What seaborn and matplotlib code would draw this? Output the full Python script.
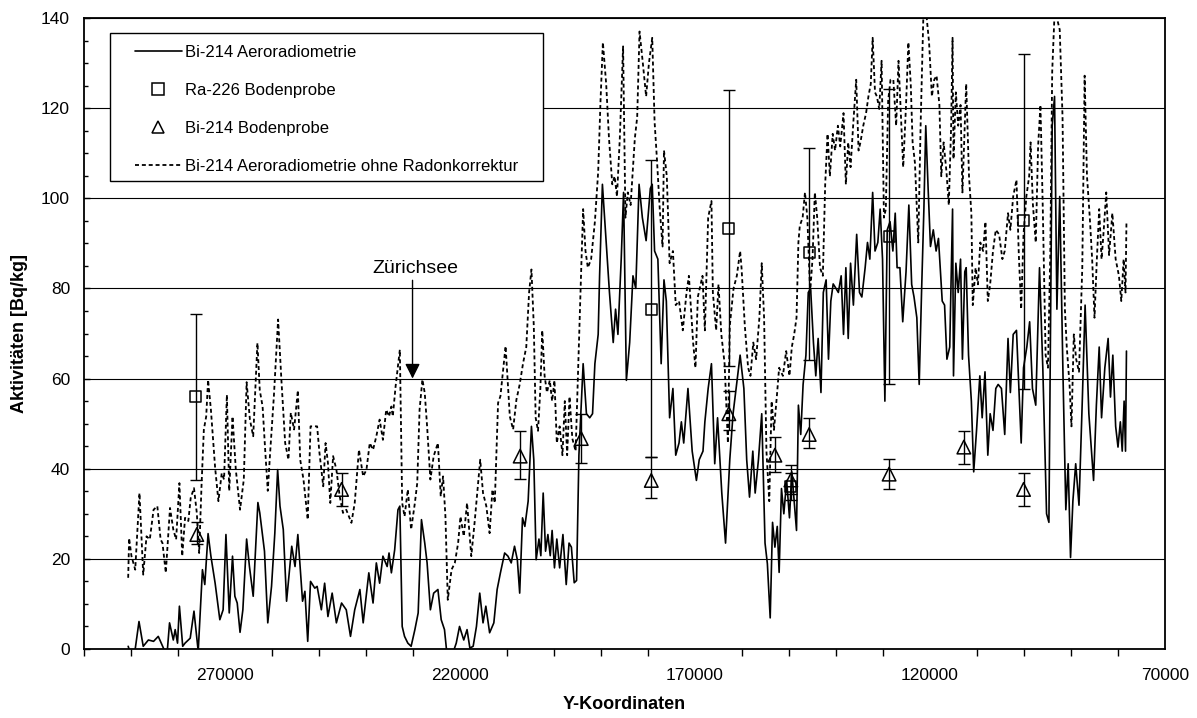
import numpy as np
import pandas as pd
import matplotlib
matplotlib.use("Agg")
import matplotlib.pyplot as plt
import seaborn as sns
from matplotlib.lines import Line2D
from matplotlib.patches import Rectangle
from matplotlib.ticker import MultipleLocator, FixedLocator

# ---------------- data (Y-coordinate in thousands, activity in Bq/kg) -------------
solid_km = [290.6, 289.5, 288.3, 287.4, 286.3, 285.2, 284.2, 283.1, 282.4, 281.8, 281.0, 280.6, 280.1,
            279.7, 279.0, 278.5, 277.4, 276.6, 275.7, 274.8, 274.3, 273.6, 273.0, 272.1, 271.1, 270.4,
            269.8, 269.1, 268.4, 267.9, 267.4, 266.8, 266.2, 265.4, 264.8, 264.0, 263.0, 262.6, 261.6,
            260.9, 260.1, 259.4, 258.8, 258.3, 257.6, 256.9, 255.8, 255.1, 254.5, 253.5, 253.0, 252.4,
            251.8, 250.9,
            250.4, 249.5, 248.8, 248.1, 247.2, 246.3, 245.2, 244.2, 243.3, 242.4, 241.3, 240.6, 239.4,
            238.5, 237.8, 237.1, 236.4, 235.5, 235.1, 234.6, 233.9, 233.2, 232.8, 232.3, 231.8, 231.1,
            230.4, 229.6, 228.9, 228.2, 227.5, 227.0, 226.3, 225.6, 224.7, 224.0, 223.3, 222.8, 222.2,
            220.8, 220.1, 219.2, 218.5, 217.9, 217.2, 216.5, 215.8, 215.1, 214.5, 213.7, 212.8, 212.1,
            211.4, 210.5, 209.8, 209.1, 208.4, 207.8,
            207.3, 206.7, 206.2, 205.5, 204.8, 204.3, 203.8, 203.2, 202.8, 202.3, 201.8, 201.3, 200.8,
            200.4, 199.9, 199.4, 198.8, 198.1, 197.4, 196.8, 196.3, 195.7, 195.2, 194.7, 193.8, 193.1,
            192.4, 191.8, 191.3, 190.6, 190.3, 189.7, 189.0, 188.2, 187.4, 186.9, 186.4, 185.7, 185.2,
            184.6, 183.9, 183.2, 182.6, 181.9, 181.2, 180.4, 179.5, 179.1, 178.6, 177.9, 177.2, 176.6,
            176.1, 175.4, 174.7, 174.1, 173.4, 172.9, 172.4, 171.5, 170.6, 169.7, 169.1, 168.3, 167.9,
            167.2, 166.5, 165.8, 165.2, 164.8, 164.3, 163.5, 162.6, 161.9,
            160.4, 159.6, 159.0, 158.4, 157.7, 157.2, 156.5, 155.8, 155.1, 154.6, 154.0, 153.5, 153.0,
            152.5, 152.1, 151.6, 151.1, 150.5, 149.9, 149.4, 148.9, 148.4, 148.0, 147.5, 147.0, 146.4,
            145.9, 145.4, 144.8, 144.3, 143.8, 143.2, 142.7, 142.1, 141.6, 141.1, 140.6, 140.0, 139.5,
            138.9, 138.4, 137.9, 137.4, 136.9, 136.3, 135.6, 135.0, 134.5, 133.8, 133.3, 132.8, 132.2,
            131.7, 131.1, 130.6, 130.1, 129.6, 129.1, 128.5, 127.9, 127.4, 127.0, 126.4, 125.8, 125.1,
            124.5, 123.9, 123.4, 122.8, 122.3, 121.8, 121.3, 120.9, 120.4, 119.9, 119.3, 118.7, 118.2,
            117.4, 116.9, 116.4, 115.8, 115.2, 115.0, 114.5, 114.0, 113.5, 113.1, 112.6, 112.3, 111.8,
            111.2, 110.7, 110.1, 109.4, 108.9, 108.3, 107.7, 107.2, 106.6, 106.0, 105.5, 104.8, 104.1,
            103.4, 102.9, 102.3, 101.6, 100.9, 100.6, 100.1, 99.4, 98.8, 98.2, 97.5, 96.7, 96.0, 95.2,
            94.7, 94.0, 93.5, 93.0, 92.4, 91.7, 91.1, 90.6, 90.1, 89.6, 89.0, 88.3, 87.6, 87.0, 86.2,
            85.2, 84.6, 84.0, 83.5, 82.8, 82.1, 81.6, 81.1, 80.5, 80.0, 79.5, 79.1, 78.7, 78.4, 78.2]
solid_val = [0.6, -3, 6.1, 0.6, 2.0, 1.7, 2.8, 0.2, -2, 5.8, 2.0, 4.3, 1.3,
             9.5, 0.6, 1.3, 2.4, 8.4, -0.5, 17.6, 14.3, 25.6, 20.6, 14.6, 6.5, 8.7,
             25.4, 8.0, 20.6, 11.7, 10.2, 3.7, 8.7, 24.4, 18.3, 11.7, 32.5, 30.2, 21.7,
             5.8, 13.9, 25.7, 39.8, 31.7, 26.5, 10.6, 22.8, 18.3, 25.4, 10.6, 12.8, 1.7,
             15.0, 13.5,
             13.9, 8.7, 14.6, 7.2, 12.4, 5.8, 10.2, 8.7, 2.8, 8.7, 13.2, 5.8, 16.9,
             10.2, 19.1, 14.6, 20.6, 18.3, 21.3, 16.9, 22.0, 30.9, 31.7, 5.0, 2.8, 1.3,
             0.6, 4.3, 8.0, 28.7, 23.5, 19.1, 8.7, 12.4, 13.2, 6.5, 4.3, -0.9, -3,
             1.3, 5.0, 2.0, 4.3, 0.2, 0.6, 5.0, 12.4, 5.8, 9.5, 3.6, 5.8, 13.2,
             16.9, 21.3, 20.6, 19.1, 22.8, 19.8,
             12.4, 29.1, 27.2, 32.8, 49.4, 42.0, 19.8, 24.4, 20.7, 34.6, 21.7, 25.4, 20.7,
             26.3, 18.0, 24.4, 18.0, 25.4, 14.3, 23.5, 22.6, 14.7, 15.2, 43.0, 63.3, 52.2,
             51.3, 52.2, 63.3, 69.8, 82.8, 103.1, 92.0, 79.1, 68.0, 75.4, 69.8, 86.5, 101.3,
             59.6, 68.0, 82.8, 80.0, 103.1, 95.7, 90.6, 102.2, 103.1, 88.3, 86.5, 63.3, 81.9,
             77.2, 51.3, 57.8, 43.0, 45.7, 50.4, 45.7, 57.8, 43.9, 37.4, 42.0, 43.9, 50.4,
             57.8, 63.3, 41.1, 51.3, 43.9, 34.6, 23.5, 42.0, 52.2,
             65.2, 57.8, 42.0, 33.7, 43.9, 34.6, 42.0, 52.2, 23.5, 18.9, 6.9, 28.1, 22.6,
             27.2, 17.0, 35.6, 30.0, 37.4, 29.1, 39.3, 32.8, 26.3, 54.1, 47.6, 58.7, 65.2,
             79.1, 80.0, 68.0, 60.6, 68.9, 56.9, 79.1, 81.9, 64.3, 77.2, 81.0, 80.0, 79.1,
             82.8, 69.8, 84.6, 68.9, 85.6, 76.3, 92.0, 79.1, 78.1, 84.6, 90.2, 86.5, 101.3,
             88.3, 90.2, 97.6, 86.5, 55.0, 93.0, 94.8, 88.3, 96.7, 84.6, 84.6, 72.6, 83.7,
             98.5, 80.9, 78.1, 73.5, 58.7, 79.1, 97.6, 116.1, 102.2, 89.3, 93.0, 88.3, 91.1,
             77.2, 76.3, 64.3, 67.0, 97.6, 60.6, 85.6, 79.1, 86.5, 64.3, 83.7, 84.6, 65.2,
             55.0, 39.3, 48.5, 60.6, 51.3, 61.5, 43.0, 52.2, 48.5, 57.8, 58.7, 57.8, 47.6,
             68.9, 56.9, 69.8, 70.7, 53.1, 45.7, 62.4, 67.0, 72.6, 57.8, 54.1, 84.6, 62.4, 30.0,
             28.1, 116.1, 122.6, 75.4, 100.4, 60.6, 30.9, 41.1, 20.3, 32.8, 41.1, 31.9, 55.0, 76.3, 52.2,
             37.4, 54.1, 67.0, 51.3, 62.4, 68.9, 55.9, 65.2, 49.4, 44.8, 50.4, 43.9, 55.0, 43.9, 66.1]

dashed_km = [290.6, 290.4, 289.9, 289.1, 288.2, 287.4, 286.7, 286.0, 285.2, 284.4, 283.7, 283.3, 282.6,
             281.7, 281.0, 280.4, 279.7, 279.1, 278.5, 277.8, 277.3, 276.6, 276.0, 275.5, 275.0, 274.5,
             274.0, 273.6, 273.0, 272.1, 271.4, 270.7, 270.2, 269.6, 269.1, 268.4, 267.7, 266.8, 266.0,
             265.4, 264.7, 264.0, 263.1, 262.6, 262.0, 261.5, 260.9, 260.4, 259.6, 258.7, 258.0, 257.2,
             256.5, 256.0, 255.3, 254.5, 254.0, 253.3, 252.4, 251.8,
             250.4, 249.9, 249.1, 248.6, 248.1, 247.6, 247.0, 246.3, 245.6, 244.9, 244.2, 243.1, 242.4,
             241.5, 240.6, 239.9, 239.2, 238.5, 237.8, 237.1, 236.4, 235.7, 235.1, 234.6, 234.3, 233.7,
             232.8, 232.3, 231.8, 231.1, 230.4, 229.6, 229.1, 228.6, 228.0, 227.5, 227.0, 226.3, 225.6,
             224.7, 224.1, 223.6, 223.1, 222.6, 221.8, 221.1, 220.4, 219.9, 219.2, 218.5, 217.6, 216.9,
             215.7, 215.1, 214.4, 213.7, 213.1, 212.6, 211.9, 211.4, 210.3, 209.4, 208.7, 208.0,
             207.3, 206.6, 205.9, 205.3, 204.8, 204.3, 203.9, 203.4, 202.9, 202.5, 202.0, 201.5, 200.9,
             200.4, 199.9, 199.4, 198.8, 198.2, 197.7, 197.2, 196.7, 196.1, 195.4, 194.7, 194.2, 193.8,
             193.3, 192.8, 192.1, 191.3, 190.6, 190.1, 189.6, 188.9, 188.3, 187.6, 187.1, 186.6, 186.0,
             185.3, 184.8, 184.3, 183.7, 182.8, 182.3, 181.8, 181.1, 180.4, 179.8, 179.1, 178.6, 178.1,
             177.5, 176.9, 176.6, 176.0, 175.4, 174.7, 174.1, 173.4, 172.6, 171.8, 171.3, 170.4, 169.9,
             169.4, 168.4, 167.9, 167.2, 166.5, 166.2, 165.5, 165.0, 164.4, 163.7, 163.0,
             162.6, 161.8, 161.1, 160.4, 160.1, 159.4, 158.7, 158.2, 157.6, 157.0, 156.3, 155.8, 155.3,
             154.8, 154.2, 153.7, 153.2, 152.6, 152.1, 151.3, 150.6, 149.9, 149.4, 148.9, 148.4, 148.0,
             147.7, 147.1, 146.6, 146.1, 145.5, 145.0, 144.5, 144.0, 143.4, 142.8, 142.3, 141.8, 141.3,
             140.7, 140.2, 139.6, 139.1, 138.4, 137.9, 137.4, 136.9, 136.3, 135.7, 135.2, 134.8, 134.2,
             133.6, 133.1, 132.6, 132.2, 131.7, 131.3, 130.8, 130.3, 129.8, 129.4, 128.9, 128.4, 127.8,
             127.2, 126.7, 126.2, 125.7, 125.1, 124.6, 124.1, 123.7, 123.2, 122.5, 122.0, 121.4, 120.7,
             120.2, 119.6, 119.1, 118.6, 118.0,
             117.6, 117.1, 116.5, 116.0, 115.5, 115.2, 115.0, 114.5, 114.0, 113.5, 113.1, 112.6, 112.3,
             111.7, 111.2, 110.9, 110.3, 109.8, 109.3, 108.7, 108.2, 107.7, 107.2, 106.6, 106.0, 105.3,
             104.6, 104.1, 103.4, 102.9, 102.3, 101.6, 101.1, 100.6, 100.1, 99.5, 98.9, 98.6, 98.1,
             97.5, 97.0, 96.5, 96.0, 95.4, 94.9, 94.4, 94.0, 93.5, 93.0, 92.4, 91.8, 91.3, 90.9, 90.3,
             89.9, 89.4, 88.9, 88.3, 87.6, 87.1, 86.6, 86.0, 85.5, 85.0, 84.5, 84.0, 83.5, 83.1, 82.5,
             81.9, 81.2, 80.5, 79.8, 79.3, 78.8, 78.4, 78.2]
dashed_val = [15.8, 24.6, 20.6, 17.6, 34.6, 16.5, 25.0, 24.3, 30.9, 31.7, 24.3, 23.5, 16.9,
              31.3, 26.5, 24.3, 36.8, 20.6, 29.1, 28.4, 33.5, 35.7, 30.2, 21.3, 36.1, 48.7,
              51.6, 59.7, 53.1, 40.2, 32.8, 39.0, 37.6, 56.4, 35.1, 51.6, 39.8, 30.9, 37.6,
              59.2, 50.9, 47.2, 67.9, 57.4, 53.8, 45.0, 35.1, 43.5, 56.1, 73.1, 59.7, 45.7,
              42.0, 52.4, 48.7, 57.4, 42.0, 37.6, 28.7, 49.4,
              49.4, 43.5, 36.1, 45.7, 41.3, 32.4, 42.8, 39.8, 33.9, 30.2, 30.9, 28.0, 32.4,
              44.2, 38.3, 39.8, 45.7, 44.2, 47.2, 50.9, 46.4, 53.1, 51.6, 53.8, 51.6, 58.3,
              66.4, 32.4, 29.4, 35.4, 26.5, 32.4, 36.8, 53.1, 59.8, 56.8, 49.4, 37.6, 42.8,
              45.7, 33.9, 38.3, 29.4, 10.9, 17.6, 19.1, 23.5, 29.4, 25.0, 32.4, 20.6, 28.0,
              42.0, 34.6, 31.7, 25.7, 35.4, 32.4, 54.6, 56.1, 67.2, 51.6, 48.7, 55.3,
              58.7, 63.3, 67.0, 79.1, 84.2, 71.7, 51.3, 48.4, 57.8, 70.7, 60.6, 56.9, 59.6,
              55.0, 59.6, 45.7, 49.4, 43.0, 55.0, 43.0, 56.0, 46.7, 43.9, 68.0, 84.6, 97.6,
              88.3, 84.6, 86.5, 94.8, 105.9, 121.7, 134.6, 125.4, 113.3, 103.1, 104.9, 100.4, 113.3,
              133.7, 95.7, 101.3, 98.5, 113.3, 118.0, 137.0, 130.0, 122.6, 130.0, 135.6, 117.0, 108.7,
              97.6, 89.3, 110.6, 104.9, 85.6, 88.3, 76.3, 77.2, 70.7, 79.1, 82.8, 68.0, 62.4,
              78.1, 82.8, 70.7, 95.7, 99.4, 79.1, 70.7, 80.9, 69.8, 63.3, 45.7,
              71.7, 80.0, 82.8, 88.3, 84.6, 71.7, 62.4, 60.6, 68.0, 64.3, 73.5, 85.6, 73.5,
              43.9, 32.8, 55.0, 48.6, 55.9, 62.4, 60.6, 66.1, 60.6, 67.0, 69.8, 73.5, 90.2,
              93.9, 95.7, 101.3, 95.7, 79.1, 86.5, 101.3, 95.7, 84.6, 82.8, 103.1, 114.3, 104.9,
              114.3, 110.6, 116.1, 111.5, 118.9, 103.1, 112.4, 106.9, 117.0, 126.3, 110.6, 112.4, 116.1,
              118.9, 122.6, 125.4, 135.6, 123.5, 122.6, 119.8, 130.5, 95.7, 97.6, 121.7, 126.3, 126.3,
              116.1, 130.5, 118.9, 106.9, 120.7, 134.6, 125.4, 112.4, 107.8, 90.2, 116.1, 141.0, 140.0,
              134.6, 122.6, 126.3, 127.2, 120.7,
              104.9, 112.4, 105.9, 98.5, 116.1, 135.6, 108.7, 123.5, 116.1, 120.7, 101.3, 116.1, 125.4,
              104.9, 96.7, 76.3, 84.6, 80.9, 90.2, 88.3, 94.8, 77.2, 80.9, 88.3, 93.0, 92.0,
              86.5, 88.3, 96.7, 93.0, 100.4, 104.1, 87.4, 75.4, 92.0, 100.4, 104.9, 112.4, 98.5,
              90.2, 111.5, 120.7, 97.6, 65.2, 62.4, 88.3, 128.1, 141.0, 140.0, 137.4, 118.0, 75.4, 67.0, 58.5,
              49.4, 69.8, 64.3, 61.5, 84.6, 127.2, 104.9, 95.7, 86.5, 73.5, 86.5, 97.6, 86.5, 92.0, 101.3,
              87.4, 96.7, 86.5, 82.8, 77.2, 86.5, 79.1, 94.8]

# Ra-226 soil samples
ra_km = [276.2, 179.3, 162.8, 149.6, 145.7, 128.7, 100.1]
ra_val = [56.1, 75.4, 93.4, 36.0, 87.9, 91.6, 95.0]
ra_hi = [74.3, 108.4, 124.0, 39.0, 111.2, 124.2, 132.0]
ra_lo = [37.6, 42.5, 62.9, 33.0, 64.1, 58.9, 57.6]

# Bi-214 soil samples
bi_km = [276.0, 245.2, 207.2, 194.2, 179.3, 162.8, 153.0, 149.6, 145.7, 128.7, 112.8, 100.1]
bi_val = [25.4, 35.4, 42.8, 46.7, 37.4, 52.2, 43.0, 37.5, 47.6, 38.8, 44.8, 35.4]
bi_hi = [28.1, 39.1, 48.3, 52.2, 42.5, 57.3, 47.1, 40.8, 51.3, 42.2, 48.3, 39.1]
bi_lo = [23.2, 31.7, 37.7, 41.3, 33.5, 48.5, 39.3, 34.3, 44.6, 35.4, 41.1, 31.7]

labels = ["Bi-214 Aeroradiometrie", "Ra-226 Bodenprobe", "Bi-214 Bodenprobe",
          "Bi-214 Aeroradiometrie ohne Radonkorrektur"]
x_ticks = [270000, 220000, 170000, 120000, 70000]
y_ticks = [0, 20, 40, 60, 80, 100, 120, 140]

# ---------------- plotting -------------
sns.set_theme(style="white")
plt.rcParams['font.family'] = ['Liberation Sans', 'DejaVu Sans']
plt.rcParams.update({"text.color": "black", "axes.labelcolor": "black",
                     "xtick.color": "black", "ytick.color": "black"})

W, H = 1197, 718
fig = plt.figure(figsize=(W / 100, H / 100), dpi=100)
ax = fig.add_axes([84 / W, 1 - 649 / H, 1081 / W, 631 / H])

df_s = pd.DataFrame({"x": np.array(solid_km) * 1000, "y": solid_val})
df_d = pd.DataFrame({"x": np.array(dashed_km) * 1000, "y": dashed_val})

sns.lineplot(data=df_d, x="x", y="y", sort=False, estimator=None, color="black",
             lw=1.3, linestyle=(0, (2.2, 1.6)), ax=ax, zorder=3)
sns.lineplot(data=df_s, x="x", y="y", sort=False, estimator=None, color="black",
             lw=1.2, ax=ax, zorder=4)

ra_x = np.array(ra_km) * 1000
bi_x = np.array(bi_km) * 1000
ra_v, bi_v = np.array(ra_val), np.array(bi_val)
ax.errorbar(ra_x, ra_v, yerr=[ra_v - np.array(ra_lo), np.array(ra_hi) - ra_v], fmt="none",
            ecolor="black", elinewidth=1.0, capsize=4, capthick=1.0, zorder=5)
ax.errorbar(bi_x, bi_v, yerr=[bi_v - np.array(bi_lo), np.array(bi_hi) - bi_v], fmt="none",
            ecolor="black", elinewidth=1.0, capsize=4, capthick=1.0, zorder=5)
sns.scatterplot(x=ra_x, y=ra_v, marker="s", s=62, color="black", facecolor="none",
                edgecolor="black", linewidth=1.1, ax=ax, zorder=6, legend=False)
sns.scatterplot(x=bi_x, y=bi_v, marker="^", s=95, color="black", facecolor="none",
                edgecolor="black", linewidth=1.1, ax=ax, zorder=6, legend=False)

ax.set_xlim(300000, 70000)
ax.set_ylim(0, 140)
ax.xaxis.set_major_locator(FixedLocator(x_ticks))
ax.xaxis.set_minor_locator(MultipleLocator(10000))
ax.set_xticklabels([str(t) for t in x_ticks])
ax.yaxis.set_major_locator(FixedLocator(y_ticks))
ax.yaxis.set_minor_locator(MultipleLocator(5))
ax.set_yticklabels([str(t) for t in y_ticks])

ax.grid(False)
ax.yaxis.grid(True, which="major", color="black", lw=0.8)
ax.set_axisbelow(True)
for sp in ax.spines.values():
    sp.set_visible(True)
    sp.set_color("black")
    sp.set_linewidth(1.3)

ax.tick_params(axis="x", which="major", direction="inout", length=9, width=1.0,
               pad=9, labelsize=12.5, colors="black", labelcolor="black")
ax.tick_params(axis="x", which="minor", direction="out", length=5, width=1.0, bottom=True)
ax.tick_params(axis="y", which="major", direction="in", length=4, width=1.0,
               pad=10, labelsize=12.5, colors="black", labelcolor="black", left=True)
ax.tick_params(axis="y", which="minor", direction="in", length=3, width=1.0, left=True)

ax.set_xlabel("Y-Koordinaten", fontsize=13, fontweight="bold", color="black")
ax.set_ylabel("Aktivitäten [Bq/kg]", fontsize=13, fontweight="bold", color="black")
ax.xaxis.set_label_coords(0.5, -0.075)
ax.yaxis.set_label_coords(-0.052, 0.5)

# Zürichsee annotation
ax.text(229400, 84.5, "Zürichsee", ha="center", va="center", fontsize=14, color="black", zorder=7)
ax.annotate("", xy=(230100, 60), xytext=(230100, 81.8),
            arrowprops=dict(arrowstyle="-|>,head_length=0.9,head_width=0.45",
                            color="black", lw=1.0, mutation_scale=10, shrinkA=0, shrinkB=0),
            zorder=7)

# legend frame + entries
ax.add_patch(Rectangle((26 / 1081, (649 - 181) / 631), 433 / 1081, 148 / 631,
                       transform=ax.transAxes, facecolor="white", edgecolor="black",
                       lw=1.0, zorder=8))
handles = [
    Line2D([], [], color="black", lw=1.2),
    Line2D([], [], marker="s", ls="none", mfc="none", mec="black", ms=8, mew=1.1),
    Line2D([], [], marker="^", ls="none", mfc="none", mec="black", ms=9, mew=1.1),
    Line2D([], [], color="black", lw=1.3, linestyle=(0, (2.2, 1.6))),
]
leg = ax.legend(handles, labels, loc="upper left", bbox_to_anchor=(51 / 1081, (649 - 45) / 631),
                frameon=False, fontsize=12, handlelength=2.8, handletextpad=0.2,
                labelspacing=1.38, borderpad=0, borderaxespad=0, labelcolor="black")
leg.set_zorder(9)

fig.savefig("out.png", dpi=100)
